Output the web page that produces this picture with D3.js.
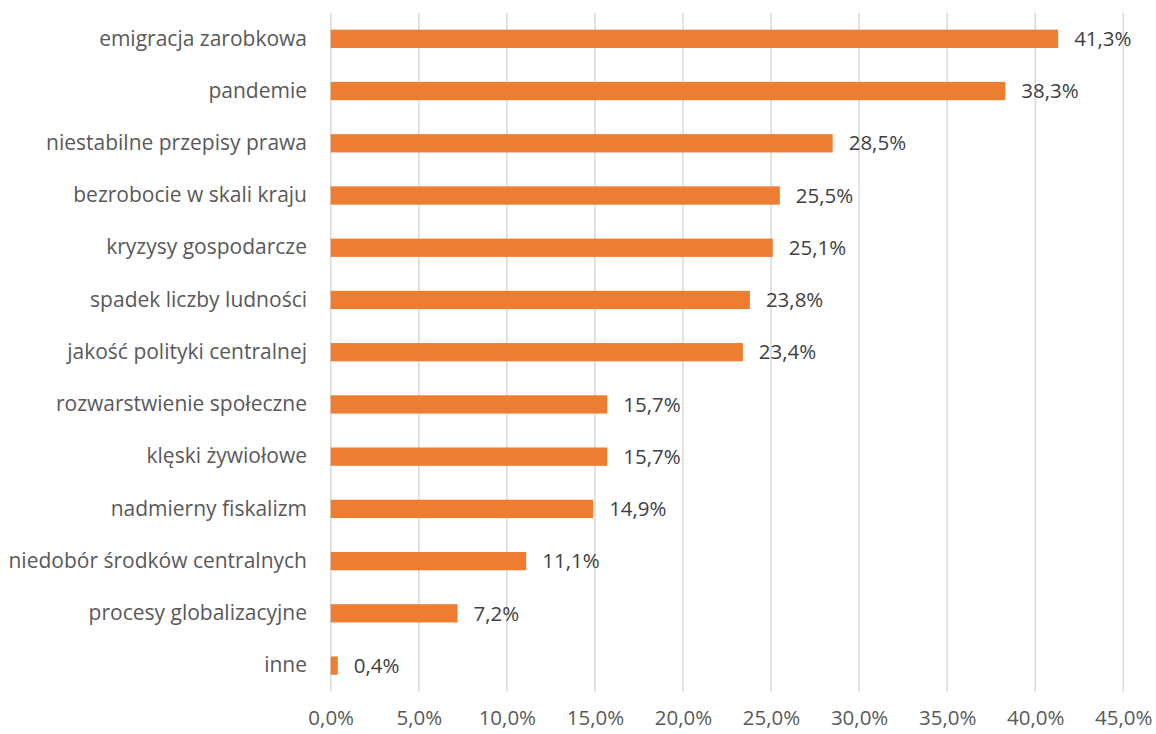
<!DOCTYPE html>
<html><head><meta charset="utf-8">
<script src="https://cdn.jsdelivr.net/npm/d3@7"></script>
<style>body{margin:0;background:#fff;} svg{display:block;}</style>
</head><body>
<svg id="c" width="1156" height="734"></svg>
<script>
const categories = ["emigracja zarobkowa","pandemie","niestabilne przepisy prawa","bezrobocie w skali kraju","kryzysy gospodarcze","spadek liczby ludności","jakość polityki centralnej","rozwarstwienie społeczne","klęski żywiołowe","nadmierny fiskalizm","niedobór środków centralnych","procesy globalizacyjne","inne"];
const values = [41.3,38.3,28.5,25.5,25.1,23.8,23.4,15.7,15.7,14.9,11.1,7.2,0.4];
const ticks = [0,5,10,15,20,25,30,35,40,45];

const svg = d3.select("#c");
const font = "'Open Sans', sans-serif";
const fs = 20.5;
const x = d3.scaleLinear().domain([0,45]).range([330.7,1123.3]);
const y = d3.scaleBand().domain(categories).range([12.7,691.7]).padding(0);
const fmt = v => v.toFixed(1).replace(".", ",") + "%";

// gridlines
svg.append("g").selectAll("line").data(ticks).join("line")
  .attr("x1", d=>x(d)).attr("x2", d=>x(d))
  .attr("y1", 12.7).attr("y2", 691.7)
  .attr("stroke", "#d9d9d9").attr("stroke-width", 1.5);

// x axis labels
const xa = d3.axisBottom(x).tickValues(ticks).tickFormat(fmt).tickSize(0).tickPadding(0);
const gx = svg.append("g").attr("transform","translate(0,710)").call(xa);
gx.select(".domain").remove();
gx.selectAll("text").attr("font-family", font).attr("font-size", fs).attr("fill", "#595959");

// y axis labels
const ya = d3.axisLeft(y).tickSize(0).tickPadding(0);
const gy = svg.append("g").attr("transform","translate(307,0)").call(ya);
gy.select(".domain").remove();
gy.selectAll("text").attr("font-family", font).attr("font-size", 21).attr("fill", "#595959");

const bh = 18.3;
svg.append("g").selectAll("rect").data(values).join("rect")
  .attr("x", x(0)).attr("y", (d,i)=>y(categories[i]) + y.bandwidth()/2 - bh/2)
  .attr("width", d=>x(d)-x(0)).attr("height", bh).attr("fill", "#ED7D31");

svg.append("g").selectAll("text").data(values).join("text")
  .attr("x", d=>x(d)+16).attr("y", (d,i)=>y(categories[i]) + y.bandwidth()/2)
  .attr("dy", "0.35em")
  .attr("font-family", font).attr("font-size", fs).attr("fill", "#404040")
  .text(fmt);
</script>
</body></html>
